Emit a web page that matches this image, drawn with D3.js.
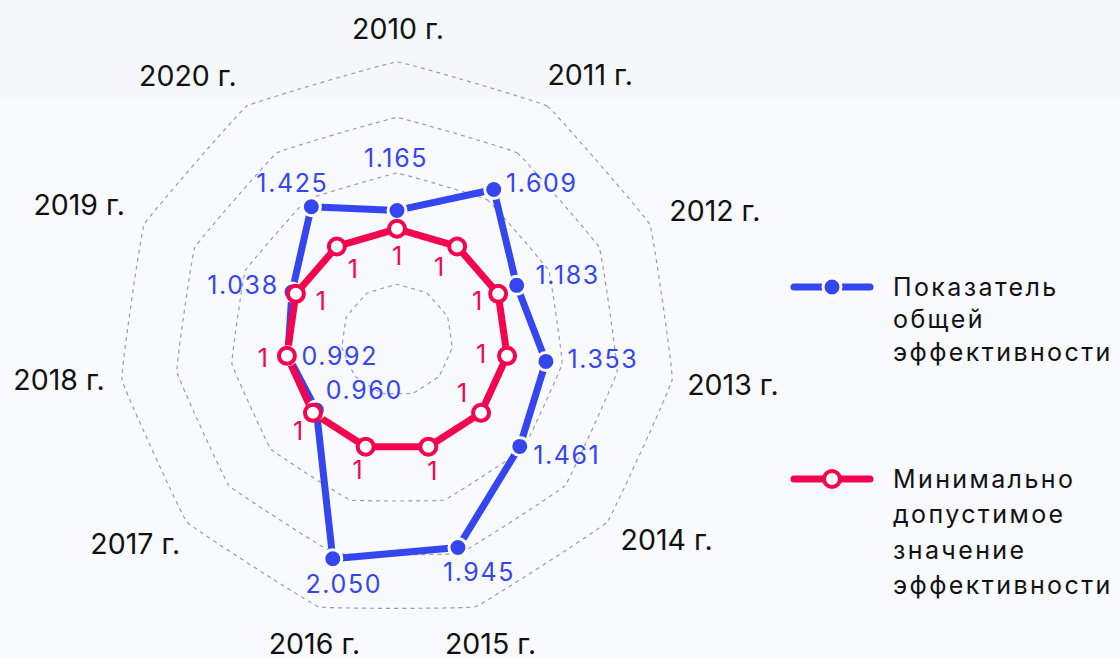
<!DOCTYPE html>
<html>
<head>
<meta charset="utf-8">
<script src="https://cdn.jsdelivr.net/npm/d3@7"></script>
<style>
  body { margin: 0; background: #f8fafd; }
  svg { display: block; font-family: Inter, "Noto Sans", sans-serif; }
</style>
</head>
<body>
<div id="chart"></div>
<script>
const years = ["2010 г.", "2011 г.", "2012 г.", "2013 г.", "2014 г.", "2015 г.",
               "2016 г.", "2017 г.", "2018 г.", "2019 г.", "2020 г."];
const overall = [1.165, 1.609, 1.183, 1.353, 1.461, 1.945, 2.050, 0.960, 0.992, 1.038, 1.425];
const minimum = [1, 1, 1, 1, 1, 1, 1, 1, 1, 1, 1];
const rings = [0.5, 1, 1.5, 2, 2.5];

// label placement (pixel offsets), layout only
const axisLabelOffset = [[1, -11], [31, -13], [45, -4], [39, 2], [43, 4], [9, 16], [2, 16], [-35, 8], [-41, -3], [-45, -10], [-47, -12]];
const overallLabelOffset = [[-1, -52], [48, -6], [51, -10], [57, -2], [47, 9], [21, 25], [11, 26], [48, -20], [52, 1], [-49, -7], [-19, -23]];
const minimumLabelOffset = [[0, 27], [-18, 21], [-21, 7], [-26, -2], [-19, -20], [4, 25], [-8, 24], [-15, 18], [-24, 2], [25, 7], [16, 23]];

const width = 1120, height = 658;
const cx = 397, cy = 340;
const blue = "#3546f0", red = "#f2044f";

const svg = d3.select("#chart")
    .append("svg")
    .attr("width", width)
    .attr("height", height);

svg.append("rect").attr("width", width).attr("height", height).attr("fill", "#f8fafd");
svg.append("rect").attr("width", width).attr("height", 97).attr("fill", "#f5f8fb");

const g = svg.append("g").attr("transform", `translate(${cx},${cy})`);

const r = d3.scaleLinear().domain([0, 2.5]).range([0, 278]);
const angle = d3.scalePoint().domain(d3.range(years.length)).range([0, 2 * Math.PI * (years.length - 1) / years.length]);

const pos = (v, i) => [r(v) * Math.sin(angle(i)), -r(v) * Math.cos(angle(i))];

// grid rings
const ringLine = d3.lineRadial()
    .angle((d, i) => angle(i))
    .radius(d => r(d))
    .curve(d3.curveCardinalClosed.tension(0.85));

g.selectAll(".ring")
    .data(rings)
    .enter()
    .append("path")
    .attr("d", v => ringLine(years.map(() => v)))
    .attr("fill", "none")
    .attr("stroke", "#9b9cb4")
    .attr("stroke-width", 1.2)
    .attr("stroke-dasharray", "4,4");

// axis labels
g.selectAll(".axis-label")
    .data(years)
    .enter()
    .append("text")
    .attr("x", (d, i) => 300 * Math.sin(angle(i)) + axisLabelOffset[i][0])
    .attr("y", (d, i) => -300 * Math.cos(angle(i)) + axisLabelOffset[i][1])
    .attr("text-anchor", "middle")
    .attr("dy", "0.35em")
    .attr("fill", "#111")
    .style("font-size", "28.5px")
    .text(d => d);

const polyLine = d3.line().curve(d3.curveLinearClosed);

// overall series
g.append("path")
    .attr("d", polyLine(overall.map(pos)))
    .attr("fill", "none")
    .attr("stroke", blue)
    .attr("stroke-width", 7)
    .attr("stroke-linejoin", "round");

// minimum series
g.append("path")
    .attr("d", polyLine(minimum.map(pos)))
    .attr("fill", "none")
    .attr("stroke", red)
    .attr("stroke-width", 7)
    .attr("stroke-linejoin", "round");

g.selectAll(".pt-overall")
    .data(overall)
    .enter()
    .append("circle")
    .attr("cx", (d, i) => pos(d, i)[0])
    .attr("cy", (d, i) => pos(d, i)[1])
    .attr("r", 9)
    .attr("fill", blue)
    .attr("stroke", "#fff")
    .attr("stroke-width", 3);

g.selectAll(".pt-min")
    .data(minimum)
    .enter()
    .append("circle")
    .attr("cx", (d, i) => pos(d, i)[0])
    .attr("cy", (d, i) => pos(d, i)[1])
    .attr("r", 8)
    .attr("fill", "#fff")
    .attr("stroke", red)
    .attr("stroke-width", 4);

g.selectAll(".lbl-overall")
    .data(overall)
    .enter()
    .append("text")
    .attr("x", (d, i) => pos(d, i)[0] + overallLabelOffset[i][0])
    .attr("y", (d, i) => pos(d, i)[1] + overallLabelOffset[i][1])
    .attr("dy", "0.35em")
    .attr("text-anchor", "middle")
    .attr("fill", blue)
    .style("font-size", "25px")
    .style("letter-spacing", "1.6px")
    .text(d => d.toFixed(3));

g.selectAll(".lbl-min")
    .data(minimum)
    .enter()
    .append("text")
    .attr("x", (d, i) => pos(d, i)[0] + minimumLabelOffset[i][0])
    .attr("y", (d, i) => pos(d, i)[1] + minimumLabelOffset[i][1])
    .attr("dy", "0.35em")
    .attr("text-anchor", "middle")
    .attr("fill", red)
    .style("font-size", "25px")
    .text(d => d);

// legend
const legend = [
    {lines: ["Показатель", "общей", "эффективности"], color: blue, filled: true, y: 287, step: 32.5},
    {lines: ["Минимально", "допустимое", "значение", "эффективности"], color: red, filled: false, y: 479, step: 35.5}
];

const lg = svg.selectAll(".legend")
    .data(legend)
    .enter()
    .append("g")
    .attr("transform", d => `translate(791,${d.y})`);

lg.append("line")
    .attr("x1", 3).attr("x2", 79)
    .attr("stroke", d => d.color)
    .attr("stroke-width", 7)
    .attr("stroke-linecap", "round");

lg.append("circle")
    .attr("cx", 41)
    .attr("r", d => d.filled ? 9 : 8)
    .attr("fill", d => d.filled ? d.color : "#fff")
    .attr("stroke", d => d.filled ? "#fff" : d.color)
    .attr("stroke-width", d => d.filled ? 3 : 4);

lg.append("text")
    .attr("x", 102)
    .attr("fill", "#111")
    .style("font-size", "25px")
    .style("letter-spacing", "2.4px")
    .selectAll("tspan")
    .data(d => d.lines.map(t => ({t, step: d.step})))
    .enter()
    .append("tspan")
    .attr("x", 102)
    .attr("y", (d, i) => i * d.step)
    .attr("dy", "0.35em")
    .text(d => d.t);
</script>
</body>
</html>
